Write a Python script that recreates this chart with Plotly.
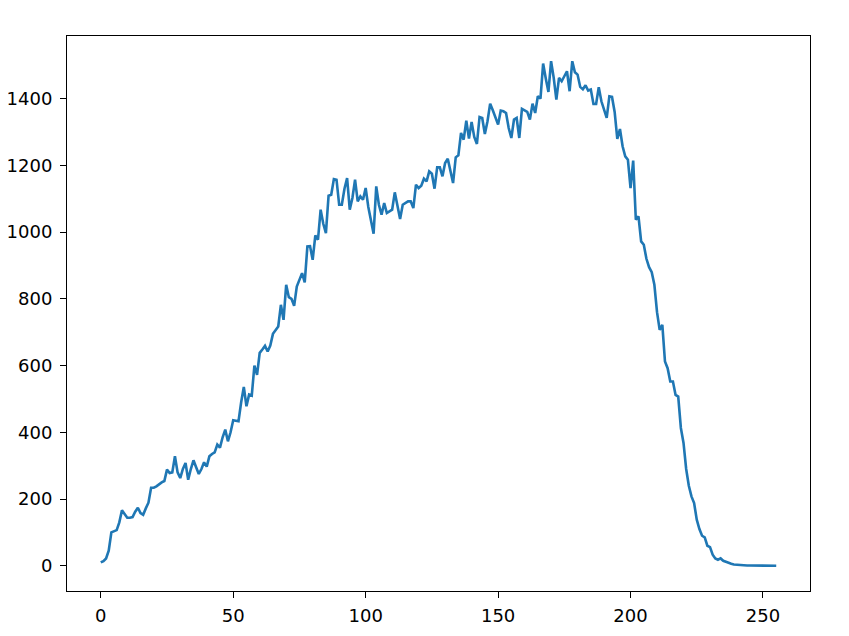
import plotly.graph_objects as go

counts = [
    10, 14, 22, 45, 100, 104, 107, 130, 166, 155,
    144, 144, 146, 162, 174, 158, 153, 172, 189, 234,
    234, 238, 245, 250, 254, 288, 278, 280, 328, 280,
    263, 290, 308, 258, 290, 316, 295, 275, 290, 310,
    297, 328, 335, 340, 363, 354, 385, 408, 373, 400,
    436, 435, 433, 490, 536, 478, 513, 510, 600, 572,
    638, 648, 659, 642, 660, 695, 705, 717, 782, 737,
    842, 805, 800, 779, 837, 860, 877, 849, 957, 958,
    917, 990, 977, 1067, 1025, 997, 1109, 1112, 1159, 1157,
    1082, 1082, 1130, 1162, 1067, 1102, 1157, 1092, 1107, 1097,
    1132, 1075, 1040, 995, 1137, 1082, 1052, 1087, 1057, 1062,
    1067, 1119, 1077, 1039, 1082, 1087, 1092, 1092, 1072, 1142,
    1132, 1139, 1160, 1152, 1182, 1175, 1130, 1194, 1194, 1167,
    1207, 1220, 1187, 1147, 1224, 1230, 1297, 1277, 1334, 1280,
    1330, 1285, 1264, 1345, 1342, 1294, 1332, 1385, 1365, 1340,
    1322, 1364, 1362, 1357, 1312, 1282, 1337, 1342, 1282, 1369,
    1365, 1360, 1337, 1385, 1357, 1407, 1400, 1505, 1460, 1420,
    1512, 1462, 1397, 1462, 1452, 1465, 1482, 1422, 1512, 1479,
    1472, 1435, 1428, 1440, 1424, 1427, 1384, 1384, 1434, 1392,
    1367, 1342, 1407, 1405, 1360, 1279, 1309, 1257, 1227, 1217,
    1132, 1214, 1037, 1047, 972, 962, 920, 895, 880, 842,
    760, 707, 722, 612, 592, 552, 552, 512, 507, 413,
    368, 290, 240, 208, 188, 138, 110, 90, 85, 60,
    56, 33, 22, 18, 22, 15, 12, 8, 6, 4,
    3, 2, 2, 1, 1, 1, 1, 1, 0, 0,
    0, 0, 0, 0, 0, 0,
]
bins = list(range(len(counts)))

x_ticks = [0, 50, 100, 150, 200, 250]
y_ticks = [0, 200, 400, 600, 800, 1000, 1200, 1400]

xpad = (bins[-1] - bins[0]) * 0.05
ypad = (max(counts) - min(counts)) * 0.05

fig = go.Figure()
fig.add_trace(go.Scatter(
    x=bins, y=counts, mode="lines",
    line=dict(color="#1f77b4", width=2.6),
    showlegend=False, hoverinfo="skip",
))

axis_common = dict(
    showline=True, linecolor="black", linewidth=1, mirror=True,
    ticks="outside", ticklen=6, tickwidth=1, tickcolor="black",
    showgrid=False, zeroline=False, automargin=False,
    tickfont=dict(family="DejaVu Sans", size=18, color="black"),
)

fig.update_layout(
    width=849, height=636,
    margin=dict(l=59, r=47, t=28, b=53),
    paper_bgcolor="white", plot_bgcolor="white",
    xaxis=dict(range=[bins[0] - xpad, bins[-1] + xpad], tickvals=x_ticks,
               ticktext=[str(v) for v in x_ticks], ticklabelstandoff=2,
               **axis_common),
    yaxis=dict(range=[min(counts) - ypad, max(counts) + ypad], tickvals=y_ticks,
               ticktext=[str(v) for v in y_ticks], ticklabelstandoff=4,
               **axis_common),
)

fig.write_html("out.html")
